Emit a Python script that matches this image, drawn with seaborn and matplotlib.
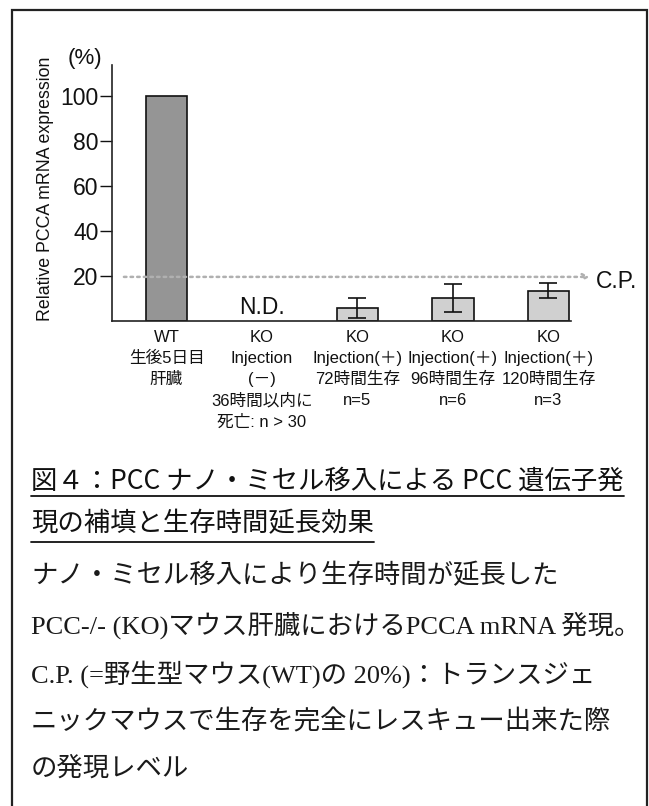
import numpy as np
import matplotlib
matplotlib.use("Agg")
import matplotlib.pyplot as plt
import matplotlib.patches as mpatches
from matplotlib.lines import Line2D
import seaborn as sns

# ---------------- data ----------------
categories = ["WT", "KO_inj-", "KO_inj+_72h", "KO_inj+_96h", "KO_inj+_120h"]
tick_labels = [
    "WT\n生後5日目\n肝臓",
    "KO\nInjection\n(－)\n36時間以内に\n死亡: n > 30",
    "KO\nInjection(＋)\n72時間生存\nn=5",
    "KO\nInjection(＋)\n96時間生存\nn=6",
    "KO\nInjection(＋)\n120時間生存\nn=3",
]
expression = [100.0, np.nan, 5.8, 10.2, 13.4]      # relative PCCA mRNA (%)
error = [np.nan, np.nan, 4.5, 6.2, 3.3]
y_ticks = [20, 40, 60, 80, 100]
cp_level = 19.5
nd_label = "N.D."
y_label = "Relative PCCA mRNA expression"

caption_title = ["図４：PCC ナノ・ミセル移入による PCC 遺伝子発",
                 "現の補填と生存時間延長効果"]
caption_body = ["ナノ・ミセル移入により生存時間が延長した",
                "PCC-/- (KO)マウス肝臓におけるPCCA mRNA 発現。",
                "C.P. (=野生型マウス(WT)の 20%)：トランスジェ",
                "ニックマウスで生存を完全にレスキュー出来た際",
                "の発現レベル"]

# ---------------- style ----------------
bar_colors = ["#959595", "#d0d0d0", "#d0d0d0", "#d0d0d0", "#d0d0d0"]
sns.set_style("white")
plt.rcParams["font.family"] = ["Liberation Sans", "Noto Sans CJK JP"]

W, H = 649, 806
fig = plt.figure(figsize=(W / 100, H / 100), dpi=100)
ax = fig.add_axes([112 / W, 1 - 320.7 / H, (571 - 112) / W, (320.7 - 65) / H])

sns.barplot(x=categories, y=expression, hue=categories, order=categories,
            hue_order=categories, palette=bar_colors, width=0.43,
            edgecolor="#111111", linewidth=1.2, errorbar=None, legend=False,
            ax=ax, zorder=2)

pos = np.arange(len(categories))
ax.errorbar(pos, expression, yerr=error, fmt="none", ecolor="#111111",
            elinewidth=1.2, capsize=6.8, capthick=1.2, zorder=3)

ax.set_xlim(-0.571, 4.236)
ax.set_ylim(0, 113.8)
ax.set_yticks(y_ticks)
ax.set_yticklabels([str(t) for t in y_ticks])
ax.set_xticks(pos)
ax.set_xticklabels(tick_labels)
for lab in ax.get_xticklabels():
    lab.set_linespacing(1.48)
    lab.set_verticalalignment("top")

for s in ["top", "right"]:
    ax.spines[s].set_visible(False)
for s in ["left", "bottom"]:
    ax.spines[s].set_linewidth(1.2)
    ax.spines[s].set_color("#222222")

ax.tick_params(axis="y", length=8.6, width=1.0, pad=1, labelsize=16.5,
               colors="#111111", left=True, direction="out")
ax.tick_params(axis="x", length=0, pad=7, labelsize=12, colors="#111111")
ax.set_xlabel("")
ax.set_ylabel(y_label, fontsize=12.8, color="#111111")
ax.yaxis.set_label_coords(-0.126, 0.515)

# (%) unit
ax.text(-0.853, 116.9, "(%)", fontsize=16, ha="center", va="center",
        color="#111111", clip_on=False)

# C.P. arrow
ax.annotate("", xy=(4.435, cp_level), xytext=(-0.446, cp_level),
            arrowprops=dict(arrowstyle="->", color="#b0b0b0", lw=1.8,
                            linestyle=":", shrinkA=0, shrinkB=0),
            annotation_clip=False, zorder=4)
ax.text(4.50, 17.6, "C.P.", fontsize=16.5, ha="left", va="center",
        color="#111111", clip_on=False)

# N.D.
ax.text(pos[1], 6.0, nd_label, fontsize=16.5, ha="center", va="center",
        color="#111111")

# ---------------- caption ----------------
title_font = ["Noto Sans CJK JP", "DejaVu Sans"]
body_font = ["Liberation Serif", "Noto Sans CJK JP"]
title_y = [481, 524]
body_y = [576, 625, 674, 722, 768]
title_objs = []
for t, y in zip(caption_title, title_y):
    title_objs.append(fig.text(31 / W, 1 - y / H, t, fontsize=19, family=title_font,
                               ha="left", va="center", color="#111111"))
for t, y in zip(caption_body, body_y):
    fig.text(31 / W, 1 - y / H, t, fontsize=19, family=body_font,
             ha="left", va="center", color="#1a1a1a")

fig.canvas.draw()
renderer = fig.canvas.get_renderer()
for obj, uy in zip(title_objs, [496, 542]):
    bb = obj.get_window_extent(renderer)
    fig.add_artist(Line2D([bb.x0 / W, bb.x1 / W], [1 - uy / H, 1 - uy / H],
                          transform=fig.transFigure, color="#111111", lw=1.3))

# outer frame
fig.add_artist(mpatches.Rectangle((12 / W, -0.05), (647 - 12) / W, 1.05 - 10 / H,
                                  transform=fig.transFigure, fill=False,
                                  edgecolor="#222222", lw=1.6, clip_on=False))

fig.savefig("out.png", dpi=100)
